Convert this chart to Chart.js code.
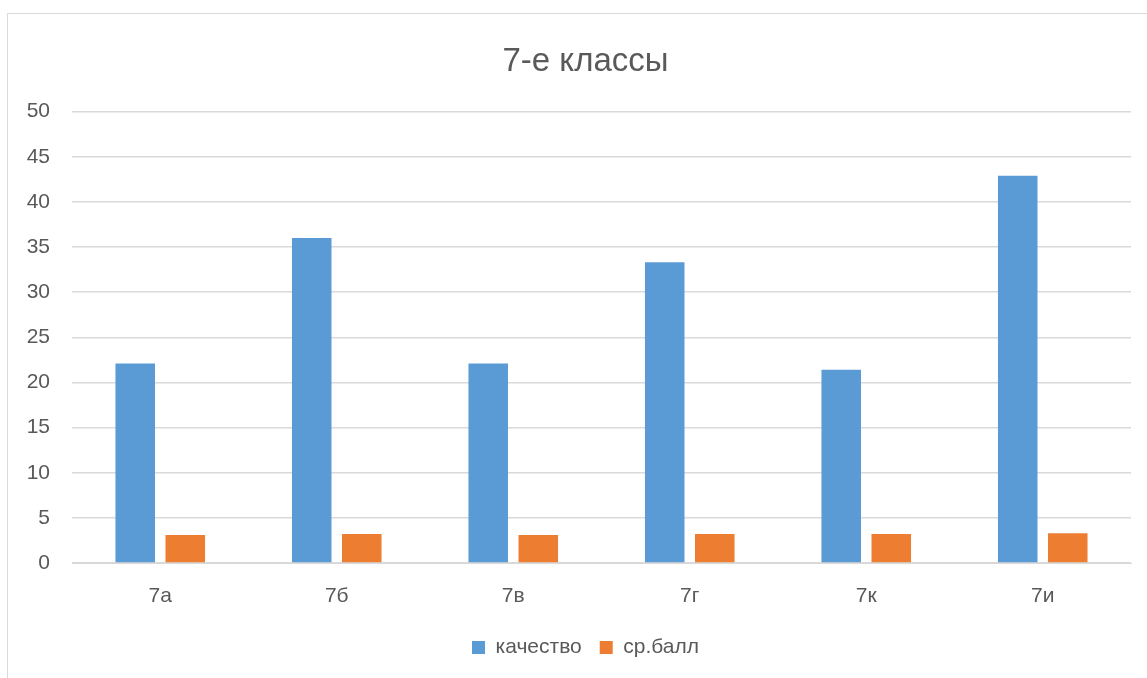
<!DOCTYPE html>
<html>
<head>
<meta charset="utf-8">
<script src="https://cdn.jsdelivr.net/npm/chart.js@4"></script>
<style>
    html, body { margin: 0; padding: 0; background: #fff; overflow: hidden; width: 1147px; height: 678px; }
    #frame { position: absolute; left: 7px; top: 13px; width: 1200px; height: 700px; border: 1px solid #d9d9d9; }
    #wrap { position: absolute; left: 0; top: 0; width: 1175px; height: 678px; }
</style>
</head>
<body>
<div id="frame"></div>
<div id="wrap"><canvas id="chart"></canvas></div>
<script>
const classes = ['7а', '7б', '7в', '7г', '7к', '7и'];
const quality = [22.1, 36.0, 22.1, 33.3, 21.4, 42.9];
const avgScore = [3.1, 3.2, 3.1, 3.2, 3.2, 3.3];
const yTicks = [0, 5, 10, 15, 20, 25, 30, 35, 40, 45, 50];

const textColor = '#595959';
const font = 'Liberation Sans, Arial, sans-serif';

new Chart(document.getElementById('chart'), {
    type: 'bar',
    data: {
        labels: classes,
        datasets: [
            { label: 'качество', data: quality, backgroundColor: '#5b9bd5', categoryPercentage: 0.567, barPercentage: 0.79 },
            { label: 'ср.балл', data: avgScore, backgroundColor: '#ed7d31', categoryPercentage: 0.567, barPercentage: 0.79 }
        ]
    },
    options: {
        responsive: true,
        maintainAspectRatio: false,
        animation: false,
        layout: { padding: { left: 12, right: 16, top: 0, bottom: 10 } },
        plugins: {
            title: {
                display: true,
                text: '7-е классы',
                color: textColor,
                font: { family: font, size: 33, weight: 'normal' },
                padding: { top: 42, bottom: 30 }
            },
            legend: {
                position: 'bottom',
                labels: {
                    color: textColor,
                    font: { family: font, size: 21 },
                    boxWidth: 13,
                    boxHeight: 13,
                    padding: 18
                }
            },
            tooltip: { enabled: false }
        },
        scales: {
            x: {
                grid: { display: false },
                border: { display: true, color: '#d9d9d9' },
                afterFit: (s) => { s.height = 56; },
                ticks: { color: textColor, font: { family: font, size: 21 }, padding: 13 }
            },
            y: {
                min: 0,
                max: 50,
                afterBuildTicks: (s) => { s.ticks = yTicks.map(v => ({ value: v })); },
                afterFit: (s) => { s.width = 60; },
                grid: { color: '#d9d9d9', lineWidth: 1.5, drawTicks: false },
                border: { display: false },
                ticks: { color: textColor, font: { family: font, size: 21 }, padding: 22 }
            },
            // empty right axis: keeps title and legend centred like the original
            yRight: {
                position: 'right',
                min: 0,
                max: 50,
                afterFit: (s) => { s.width = 28; },
                grid: { display: false },
                border: { display: false },
                ticks: { display: false }
            }
        }
    }
});
</script>
</body>
</html>
